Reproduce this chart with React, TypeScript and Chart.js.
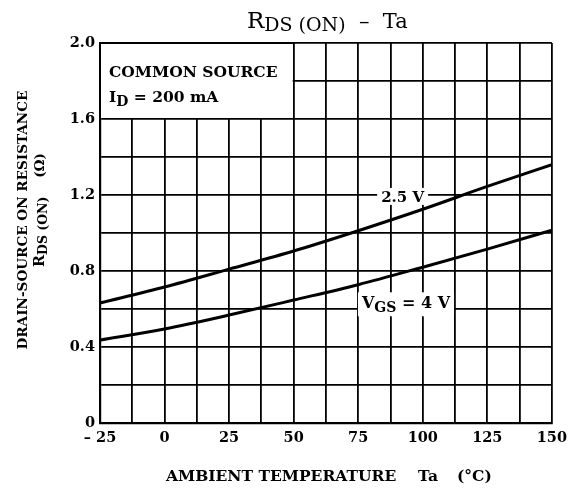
import React, { useEffect, useRef } from "react";
import { Chart, registerables } from "chart.js";

Chart.register(...registerables);

// ---- data ----
const temps = [-25, 0, 25, 50, 75, 100, 125, 150];
const rdsVgs25 = [0.632, 0.716, 0.81, 0.905, 1.012, 1.125, 1.245, 1.36];
const rdsVgs4 = [0.437, 0.495, 0.568, 0.647, 0.728, 0.82, 0.915, 1.015];
const xTickValues = [-25, 0, 25, 50, 75, 100, 125, 150];
const xTickLabels = ["– 25", "0", "25", "50", "75", "100", "125", "150"];
const yTickValues = [0, 0.4, 0.8, 1.2, 1.6, 2.0];
const yTickLabels = ["0", "0.4", "0.8", "1.2", "1.6", "2.0"];

const FAMILY = "'DejaVu Serif', serif";

type Part = { t: string; size: number; bold?: boolean; dy?: number };

function fontOf(p: Part) {
  return `${p.bold ? "bold " : ""}${p.size}px ${FAMILY}`;
}

function richWidth(ctx: CanvasRenderingContext2D, parts: Part[]) {
  let w = 0;
  for (const p of parts) {
    ctx.font = fontOf(p);
    w += ctx.measureText(p.t).width;
  }
  return w;
}

function drawRich(
  ctx: CanvasRenderingContext2D,
  parts: Part[],
  x: number,
  y: number,
  align: "left" | "center" = "left"
) {
  const w = richWidth(ctx, parts);
  let cx = align === "center" ? x - w / 2 : x;
  ctx.textAlign = "left";
  ctx.textBaseline = "alphabetic";
  for (const p of parts) {
    ctx.font = fontOf(p);
    ctx.fillText(p.t, cx, y + (p.dy || 0));
    cx += ctx.measureText(p.t).width;
  }
  return w;
}

const annotationPlugin = {
  id: "annotations",
  afterDatasetsDraw(chart: any) {
    const ctx: CanvasRenderingContext2D = chart.ctx;
    const xs = chart.scales.x;
    const ys = chart.scales.y;
    ctx.save();

    // condition box (white, covering grid in the top-left cells)
    const left = xs.getPixelForValue(-25);
    const right = xs.getPixelForValue(50);
    const top = ys.getPixelForValue(2.0);
    const bottom = ys.getPixelForValue(1.6);
    ctx.fillStyle = "#fff";
    ctx.fillRect(left + 1, top - 4, right - left - 2, bottom - top + 3);
    ctx.strokeStyle = "#000";
    ctx.lineWidth = 1.8;
    ctx.beginPath();
    ctx.moveTo(left, top);
    ctx.lineTo(right, top);
    ctx.stroke();
    ctx.fillStyle = "#000";
    drawRich(ctx, [{ t: "COMMON SOURCE", size: 15.5, bold: true }], left + 9, top + 34);
    drawRich(
      ctx,
      [
        { t: "I", size: 15.5, bold: true },
        { t: "D", size: 14, bold: true, dy: 4 },
        { t: " = 200 mA", size: 15.5, bold: true },
      ],
      left + 9,
      top + 59
    );

    // curve labels with white background
    const l1: Part[] = [{ t: "2.5 V", size: 15, bold: true }];
    const l1x = xs.getPixelForValue(92.2);
    const l1y = ys.getPixelForValue(1.19);
    const w1 = richWidth(ctx, l1);
    ctx.fillStyle = "#fff";
    ctx.fillRect(l1x - w1 / 2 - 4, l1y - 9, w1 + 8, 17);
    ctx.fillStyle = "#000";
    drawRich(ctx, l1, l1x, l1y + 5, "center");

    const l2: Part[] = [
      { t: "V", size: 16, bold: true },
      { t: "GS", size: 14, bold: true, dy: 4 },
      { t: " = 4 V", size: 16, bold: true },
    ];
    const l2x = xs.getPixelForValue(93.5);
    const l2y = ys.getPixelForValue(0.63);
    const w2 = richWidth(ctx, l2);
    ctx.fillStyle = "#fff";
    ctx.fillRect(l2x - w2 / 2 - 4, l2y - 11, w2 + 8, 24);
    ctx.fillStyle = "#000";
    drawRich(ctx, l2, l2x, l2y + 5, "center");

    ctx.restore();
  },
  afterDraw(chart: any) {
    const ctx: CanvasRenderingContext2D = chart.ctx;
    ctx.save();
    ctx.fillStyle = "#000";
    // title
    drawRich(
      ctx,
      [
        { t: "R", size: 23 },
        { t: "DS (ON)", size: 19, dy: 3 },
        { t: "  –  Ta", size: 21 },
      ],
      247,
      28
    );
    // x-axis title
    drawRich(ctx, [{ t: "AMBIENT TEMPERATURE", size: 15.5, bold: true }], 166, 481);
    drawRich(ctx, [{ t: "Ta", size: 15.5, bold: true }], 418, 481);
    drawRich(ctx, [{ t: "(°C)", size: 15.5, bold: true }], 457, 481);

    // y-axis title (rotated)
    ctx.save();
    ctx.translate(27, 220);
    ctx.rotate(-Math.PI / 2);
    drawRich(ctx, [{ t: "DRAIN-SOURCE ON RESISTANCE", size: 13.6, bold: true }], 0, 0, "center");
    ctx.restore();
    ctx.save();
    ctx.translate(44, 210);
    ctx.rotate(-Math.PI / 2);
    drawRich(
      ctx,
      [
        { t: "R", size: 14.5, bold: true },
        { t: "DS (ON)", size: 12.5, bold: true, dy: 3 },
        { t: "    (Ω)", size: 13.5, bold: true },
      ],
      0,
      0,
      "center"
    );
    ctx.restore();
    ctx.restore();
  },
};

export default function App() {
  const canvasRef = useRef<HTMLCanvasElement | null>(null);

  useEffect(() => {
    document.body.style.margin = "0";
    const canvas = canvasRef.current;
    if (!canvas) return;
    const chart = new Chart(canvas, {
      type: "line",
      data: {
        datasets: [
          {
            label: "2.5 V",
            data: temps.map((t, i) => ({ x: t, y: rdsVgs25[i] })),
            borderColor: "#000",
            borderWidth: 3,
            pointRadius: 0,
            cubicInterpolationMode: "monotone",
            fill: false,
          },
          {
            label: "VGS = 4 V",
            data: temps.map((t, i) => ({ x: t, y: rdsVgs4[i] })),
            borderColor: "#000",
            borderWidth: 3,
            pointRadius: 0,
            cubicInterpolationMode: "monotone",
            fill: false,
          },
        ],
      },
      options: {
        animation: false,
        responsive: false,
        layout: { padding: { left: 0, top: 43, right: 17, bottom: 0 } },
        plugins: {
          legend: { display: false },
          tooltip: { enabled: false },
          title: { display: false },
        },
        scales: {
          x: {
            type: "linear",
            min: -25,
            max: 150,
            afterFit: (s: any) => {
              s.height = 68;
            },
            ticks: {
              stepSize: 12.5,
              autoSkip: false,
              maxRotation: 0,
              color: "#000",
              padding: 7,
              font: { family: FAMILY, size: 14.5, weight: "bold" },
              callback: (v: any) => {
                const i = xTickValues.findIndex((t) => Math.abs(t - Number(v)) < 1e-6);
                return i >= 0 ? xTickLabels[i] : "";
              },
            },
            grid: { color: "#000", lineWidth: 1.8, drawTicks: false },
            border: { color: "#000", width: 2.2 },
          },
          y: {
            min: 0,
            max: 2,
            afterFit: (s: any) => {
              s.width = 100;
            },
            ticks: {
              stepSize: 0.2,
              autoSkip: false,
              color: "#000",
              padding: 5,
              font: { family: FAMILY, size: 14.5, weight: "bold" },
              callback: (v: any) => {
                const i = yTickValues.findIndex((t) => Math.abs(t - Number(v)) < 1e-6);
                return i >= 0 ? yTickLabels[i] : "";
              },
            },
            grid: { color: "#000", lineWidth: 1.8, drawTicks: false },
            border: { color: "#000", width: 2.2 },
          },
        },
      },
      plugins: [annotationPlugin],
    } as any);
    return () => chart.destroy();
  }, []);

  return (
    <div style={{ width: 574, height: 491, background: "#fff" }}>
      <canvas ref={canvasRef} width={574} height={491} style={{ display: "block" }} />
    </div>
  );
}
